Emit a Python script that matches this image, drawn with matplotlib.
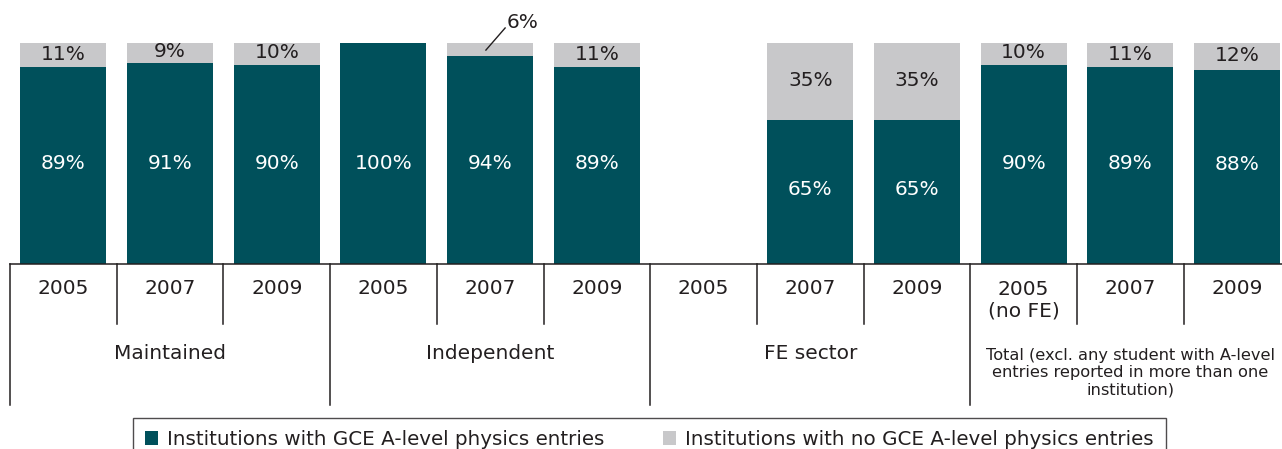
import numpy as np
import matplotlib.pyplot as plt
from matplotlib.patches import Patch

plt.rcParams['font.family'] = ['DejaVu Sans']

# data
years = ['2005', '2007', '2009', '2005', '2007', '2009',
         '2005', '2007', '2009', '2005\n(no FE)', '2007', '2009']
groups = ['Maintained', 'Independent', 'FE sector',
          'Total (excl. any student with A-level\nentries reported in more than one\ninstitution)']
with_phys = [89, 91, 90, 100, 94, 89, 0, 65, 65, 90, 89, 88]
no_phys = [11, 9, 10, 0, 6, 11, 0, 35, 35, 10, 11, 12]

teal = '#00505b'
grey = '#c8c8ca'
ink = '#231f20'

fig = plt.figure(figsize=(12.82, 4.49), dpi=100)
ax = fig.add_axes([0, 0, 1, 1])
ax.set_xlim(-0.594, 11.421)
ax.set_ylim(-83.7, 119.46)
ax.axis('off')

x = np.arange(len(years))
w = 86 / 106.7
ax.bar(x, with_phys, width=w, color=teal, linewidth=0)
ax.bar(x, no_phys, width=w, bottom=with_phys, color=grey, linewidth=0)

for i in x:
    g = with_phys[i]
    n = no_phys[i]
    if g > 0:
        ax.text(i, min(g / 2 + 1, 45.5), f'{g}%', ha='center', va='center',
                color='white', fontsize=14.5)
    if n >= 8:
        ax.text(i, g + n / 2 + 0.5, f'{n}%', ha='center', va='center', color=ink, fontsize=14.5)

# small slice labelled outside with a leader line
ax.plot([3.96, 4.14], [96.8, 106.8], color=ink, lw=1)
ax.text(4.15, 109.5, f'{no_phys[4]}%', ha='left', va='center', color=ink, fontsize=14.5)

# category axis frame
lc = dict(color=ink, lw=1.1)
ax.plot([-0.5, 11.6], [0, 0], **lc)
ax.plot([-0.5, -0.5], [0, -63.8], **lc)
for b in [0.5, 1.5, 3.5, 4.5, 6.5, 7.5, 9.5, 10.5]:
    ax.plot([b, b], [0, -27.1], **lc)
for b in [2.5, 5.5, 8.5]:
    ax.plot([b, b], [0, -63.8], **lc)

for i, y in enumerate(years):
    yy = -16.5 if '\n' in y else -10.9
    ax.text(i, yy, y, ha='center', va='center', color=ink, fontsize=14.5, linespacing=1.2)

for k, gname in enumerate(groups):
    cx = 3 * k + 1
    if k < 3:
        ax.text(cx, -40.7, gname, ha='center', va='center', color=ink, fontsize=14.5)
    else:
        ax.text(cx, -49.3, gname, ha='center', va='center', color=ink, fontsize=11.7, linespacing=1.2)

handles = [Patch(facecolor=teal, edgecolor='none'), Patch(facecolor=grey, edgecolor='none')]
leg = fig.legend(handles, ['Institutions with GCE A-level physics entries',
                           'Institutions with no GCE A-level physics entries'],
                 loc='upper left', bbox_to_anchor=(133 / 1282, 1 - 418 / 449), ncol=2,
                 fontsize=14.3, frameon=True, fancybox=False, borderaxespad=0,
                 handlelength=0.66, handleheight=0.66, handletextpad=0.45,
                 columnspacing=2.95, borderpad=0.6)
leg.get_frame().set_edgecolor(ink)
leg.get_frame().set_linewidth(1.0)
for t in leg.get_texts():
    t.set_color(ink)

fig.savefig('out.png', dpi=100)
